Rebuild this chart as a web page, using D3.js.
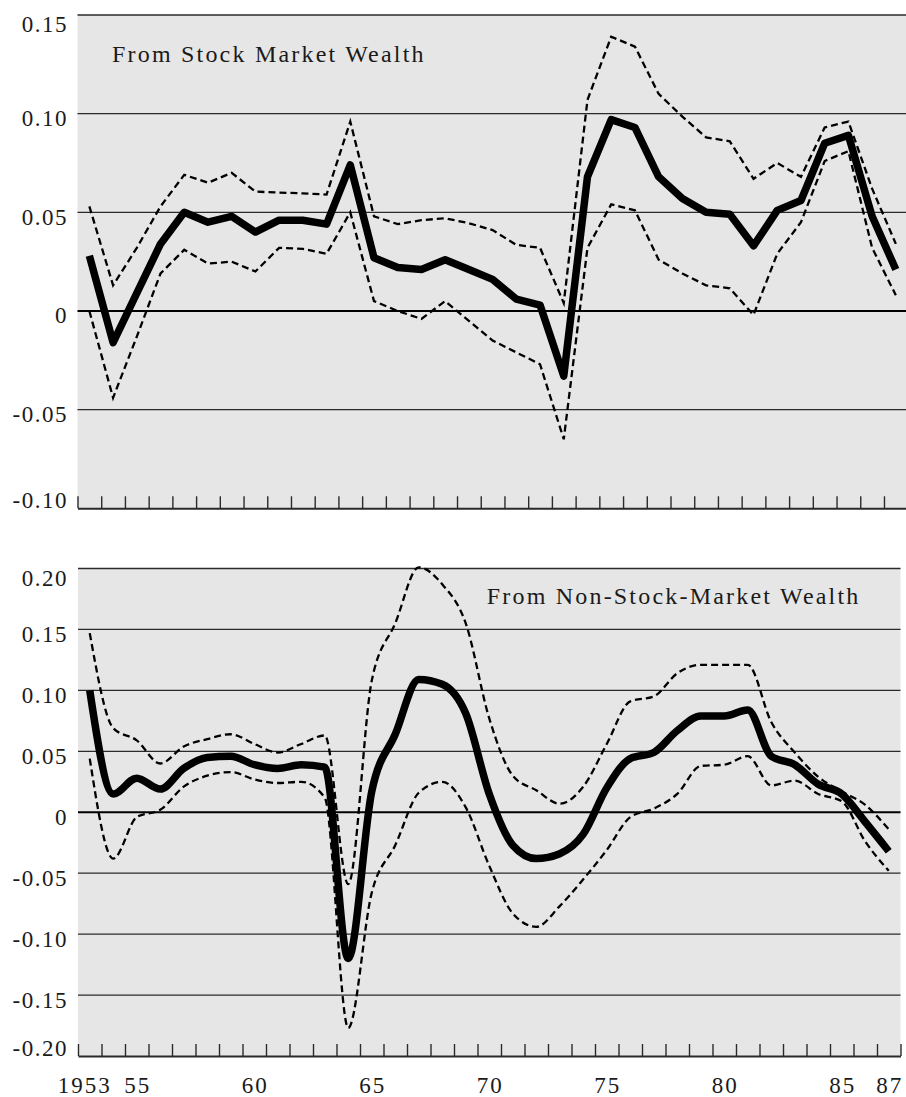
<!DOCTYPE html>
<html>
<head>
<meta charset="utf-8">
<script src="https://cdn.jsdelivr.net/npm/d3@7"></script>
<style>
  html, body { margin: 0; padding: 0; background: #ffffff; }
  svg { display: block; }
  text { font-family: "Liberation Serif", "DejaVu Serif", serif; fill: #1a1a1a; }
</style>
</head>
<body>
<svg id="chart" width="906" height="1097"></svg>
<script>
// ---------- DATA ----------
const years = [1953,1954,1955,1956,1957,1958,1959,1960,1961,1962,1963,1964,1965,1966,1967,1968,1969,1970,
               1971,1972,1973,1974,1975,1976,1977,1978,1979,1980,1981,1982,1983,1984,1985,1986,1987];

// From Stock Market Wealth
const stockMid = [0.028,-0.016,0.009,0.034,0.050,0.045,0.048,0.040,0.046,0.046,0.044,0.074,0.027,0.022,0.021,0.026,0.021,0.016,
                  0.006,0.003,-0.033,0.068,0.097,0.093,0.068,0.057,0.050,0.049,0.033,0.051,0.056,0.085,0.089,0.048,0.021];
const stockUpper = [0.053,0.013,0.032,0.053,0.069,0.065,0.070,0.0605,0.060,0.0596,0.059,0.096,0.048,0.044,0.046,0.047,0.0445,0.041,
                    0.0335,0.032,0.004,0.107,0.139,0.134,0.110,0.0985,0.088,0.086,0.067,0.075,0.068,0.093,0.096,0.062,0.034];
const stockLower = [0.000,-0.044,-0.013,0.019,0.031,0.024,0.025,0.020,0.032,0.0315,0.029,0.050,0.005,0.000,-0.004,0.005,-0.005,-0.015,
                    -0.021,-0.027,-0.065,0.032,0.054,0.051,0.026,0.019,0.013,0.0115,-0.002,0.029,0.045,0.076,0.081,0.032,0.008];

// From Non-Stock-Market Wealth
const nonMid = [0.100,0.015,0.028,0.019,0.036,0.045,0.046,0.039,0.036,0.039,0.037,-0.120,0.017,0.064,0.109,0.105,0.081,0.015,
                -0.027,-0.038,-0.034,-0.018,0.020,0.044,0.049,0.067,0.079,0.079,0.084,0.046,0.039,0.023,0.015,-0.008,-0.032];
const nonUpper = [0.147,0.069,0.059,0.040,0.054,0.060,0.064,0.056,0.049,0.056,0.063,-0.059,0.108,0.155,0.201,0.187,0.155,0.077,
                  0.030,0.018,0.007,0.021,0.056,0.091,0.095,0.114,0.121,0.121,0.121,0.074,0.049,0.029,0.017,0.006,-0.014];
const nonLower = [0.044,-0.038,-0.004,0.002,0.021,0.030,0.033,0.027,0.024,0.025,0.012,-0.177,-0.066,-0.027,0.016,0.025,0.004,-0.044,
                  -0.083,-0.094,-0.077,-0.055,-0.031,-0.004,0.003,0.015,0.038,0.039,0.046,0.022,0.026,0.015,0.009,-0.024,-0.048];

// Tick values / labels
const topYTicks = [0.15, 0.10, 0.05, 0, -0.05, -0.10];
const topYLabels = ["0.15", "0.10", "0.05", "0", "-0.05", "-0.10"];
const botYTicks = [0.20, 0.15, 0.10, 0.05, 0, -0.05, -0.10, -0.15, -0.20];
const botYLabels = ["0.20", "0.15", "0.10", "0.05", "0", "-0.05", "-0.10", "-0.15", "-0.20"];
const xTickYears = [1952.5,1953.5,1954.5,1955.5,1956.5,1957.5,1958.5,1959.5,1960.5,1961.5,1962.5,1963.5,1964.5,1965.5,
                    1966.5,1967.5,1968.5,1969.5,1970.5,1971.5,1972.5,1973.5,1974.5,1975.5,1976.5,1977.5,1978.5,1979.5,
                    1980.5,1981.5,1982.5,1983.5,1984.5,1985.5,1986.5,1987.5];
const xLabelYears = [1953, 1955, 1960, 1965, 1970, 1975, 1980, 1985, 1987];
const xLabels = ["1953", "55", "60", "65", "70", "75", "80", "85", "87"];

const titleTop = "From Stock Market Wealth";
const titleBottom = "From Non-Stock-Market Wealth";

// ---------- DRAW ----------
const svg = d3.select("#chart");
svg.append("rect").attr("width", 906).attr("height", 1097).attr("fill", "#ffffff");

function panel(cfg) {
  const g = svg.append("g");
  const x = d3.scaleLinear().domain([1952.5, 1987.5]).range([cfg.left, cfg.right]);
  const y = d3.scaleLinear().domain(cfg.yDomain).range([cfg.bottom, cfg.top]);
  const xEnd = Math.min(cfg.right, 906);

  g.append("rect")
    .attr("x", cfg.left).attr("y", cfg.top)
    .attr("width", xEnd - cfg.left).attr("height", cfg.bottom - cfg.top)
    .attr("fill", "#e6e6e6");

  // gridlines
  g.selectAll("line.grid").data(cfg.yTicks.filter(v => v !== cfg.yDomain[0])).enter()
    .append("line").attr("class", "grid")
    .attr("x1", cfg.left).attr("x2", xEnd)
    .attr("y1", d => y(d)).attr("y2", d => y(d))
    .attr("stroke", d => d === 0 ? "#000" : "#2a2a2a")
    .attr("stroke-width", d => d === 0 ? 2.2 : 1.3);

  // y labels
  g.selectAll("text.ylab").data(cfg.yTicks).enter()
    .append("text").attr("class", "ylab")
    .attr("x", 68)
    .attr("y", (d, i) => y(d) + (i === 0 ? 17 : (i === cfg.yTicks.length - 1 ? 0 : 12.5)))
    .attr("text-anchor", "end")
    .style("font-size", "23px")
    .style("letter-spacing", "1.5px")
    .text((d, i) => cfg.yLabels[i]);

  // x axis with upward ticks
  const axis = d3.axisBottom(x).tickValues(cfg.xTicks).tickSize(-12).tickSizeOuter(0).tickFormat("");
  const ax = g.append("g").attr("transform", `translate(0,${cfg.bottom})`).call(axis);
  ax.select(".domain").attr("stroke", "#2a2a2a").attr("stroke-width", 2);
  ax.selectAll(".tick line").attr("stroke", "#2a2a2a").attr("stroke-width", 1.4);

  const clip = "clip" + cfg.id;
  svg.append("clipPath").attr("id", clip).append("rect")
    .attr("x", cfg.left).attr("y", cfg.top - 10).attr("width", xEnd - cfg.left).attr("height", cfg.bottom - cfg.top + 20);

  const line = d3.line().x((d, i) => x(years[i])).y(d => y(d)).curve(cfg.curve);
  const lg = g.append("g").attr("clip-path", `url(#${clip})`);
  [cfg.upper, cfg.lower].forEach(series => {
    lg.append("path").datum(series).attr("d", line)
      .attr("fill", "none").attr("stroke", "#000").attr("stroke-width", 2.3)
      .attr("stroke-dasharray", "7,4");
  });
  lg.append("path").datum(cfg.mid).attr("d", line)
    .attr("fill", "none").attr("stroke", "#000").attr("stroke-width", 7.5)
    .attr("stroke-linejoin", "round");

  g.append("text").attr("x", cfg.titleX).attr("y", cfg.titleY)
    .style("font-size", "24px").style("letter-spacing", "2.2px")
    .text(cfg.title);

  return { x, y, g };
}

panel({
  id: "top", left: 77.5, right: 907.7, top: 15, bottom: 508.3,
  yDomain: [-0.10, 0.15], yTicks: topYTicks, yLabels: topYLabels,
  xTicks: xTickYears,
  mid: stockMid, upper: stockUpper, lower: stockLower,
  curve: d3.curveLinear,
  title: titleTop, titleX: 112, titleY: 61.5
});

const bot = panel({
  id: "bot", left: 78, right: 900.5, top: 568.5, bottom: 1056,
  yDomain: [-0.20, 0.20], yTicks: botYTicks, yLabels: botYLabels,
  xTicks: xTickYears,
  mid: nonMid, upper: nonUpper, lower: nonLower,
  curve: d3.curveMonotoneX,
  title: titleBottom, titleX: 486.7, titleY: 604
});

// x labels under bottom panel
bot.g.selectAll("text.xlab").data(xLabelYears).enter()
  .append("text").attr("class", "xlab")
  .attr("x", (d, i) => bot.x(d) + (i === 0 ? -6 : 0) + 1)
  .attr("y", 1093)
  .attr("text-anchor", "middle")
  .style("font-size", "23px")
  .style("letter-spacing", "2px")
  .text((d, i) => xLabels[i]);
</script>
</body>
</html>
